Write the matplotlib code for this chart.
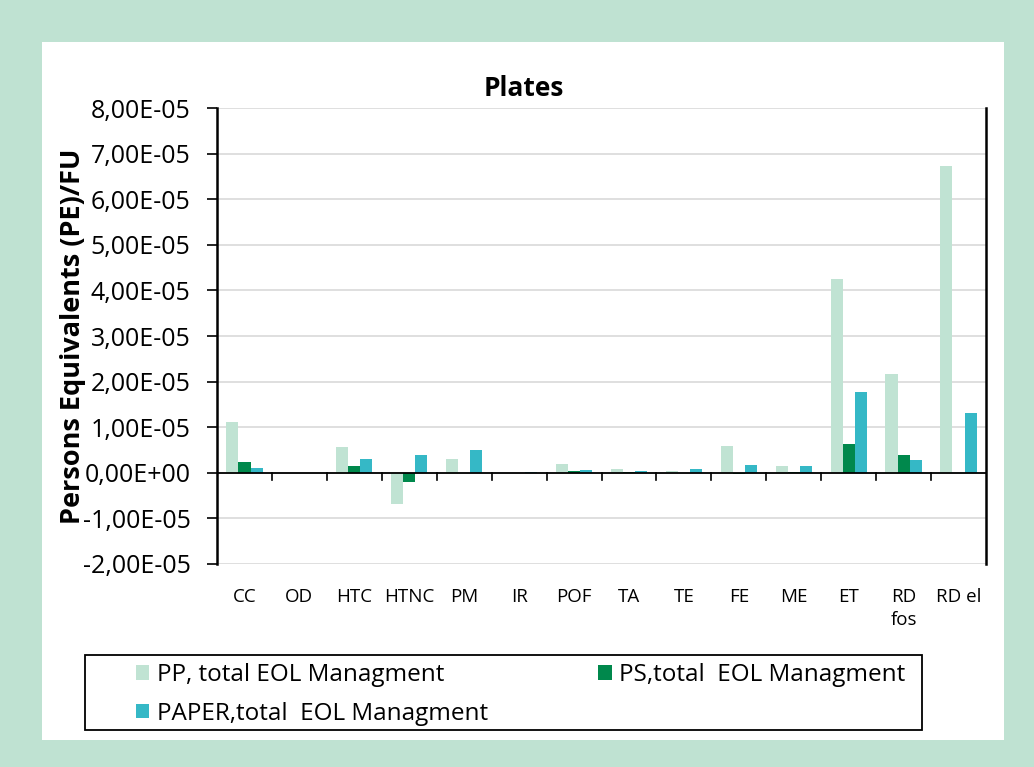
import numpy as np
import matplotlib.pyplot as plt
from matplotlib.patches import Rectangle
from matplotlib.ticker import FuncFormatter

plt.rcParams['font.family'] = ['Open Sans', 'DejaVu Sans']

categories = ['CC', 'OD', 'HTC', 'HTNC', 'PM', 'IR', 'POF', 'TA', 'TE', 'FE',
              'ME', 'ET', 'RD\nfos', 'RD el']
pp = [1.12e-5, 0.0, 0.57e-5, -0.68e-5, 0.31e-5, 0.0, 0.20e-5, 0.09e-5, 0.04e-5,
      0.58e-5, 0.16e-5, 4.25e-5, 2.16e-5, 6.73e-5]
ps = [0.24e-5, 0.0, 0.15e-5, -0.20e-5, 0.0, 0.0, 0.04e-5, 0.01e-5, 0.0,
      -0.02e-5, 0.02e-5, 0.64e-5, 0.39e-5, 0.0]
paper = [0.11e-5, 0.0, 0.31e-5, 0.40e-5, 0.50e-5, 0.02e-5, 0.07e-5, 0.04e-5,
         0.09e-5, 0.18e-5, 0.15e-5, 1.78e-5, 0.28e-5, 1.31e-5]
labels = ['PP, total EOL Managment', 'PS,total  EOL Managment',
          'PAPER,total  EOL Managment']
colors = ['#c0e3d3', '#00884c', '#35b8c6']

W, H = 1034, 767
fig = plt.figure(figsize=(W / 100, H / 100), dpi=100)
fig.patch.set_facecolor('#bfe2d2')
fig.patches.append(Rectangle((42 / W, 1 - 740 / H), 962 / W, 698 / H,
                             transform=fig.transFigure, facecolor='white',
                             edgecolor='none', zorder=-5))
# legend box
fig.patches.append(Rectangle((85 / W, 1 - 730 / H), 837 / W, 75 / H,
                             transform=fig.transFigure, facecolor='none',
                             edgecolor='black', linewidth=1.3, zorder=5))

ax = fig.add_axes([217 / W, 1 - 564 / H, 769 / W, 456 / H])
ax.set_zorder(2)
ax.set_facecolor('white')

x = np.arange(len(categories))
w = 0.22
bars = []
for i, (vals, lab, col) in enumerate(zip([pp, ps, paper], labels, colors)):
    bars.append(ax.bar(x + (i - 1) * w, vals, w, color=col, label=lab, zorder=3))

ax.set_xlim(-0.5, len(categories) - 0.5)
ax.set_ylim(-2e-5, 8e-5)
ax.set_yticks(np.arange(-2e-5, 8.01e-5, 1e-5))
ax.yaxis.set_major_formatter(FuncFormatter(
    lambda v, p: ('%.2E' % v).replace('.', ',')
    if abs(v) > 1e-12 else '0,00E+00'))
ax.grid(axis='y', color='#dcdcdc', linewidth=1.3, zorder=0)
ax.tick_params(axis='y', labelsize=18, length=7, width=1.2, direction='out',
               pad=12)

ax.set_xticks(x)
ax.set_xticklabels(categories, fontsize=13.5, va='top', linespacing=1.4)
ax.tick_params(axis='x', length=0, pad=17)

for s in ['top', 'bottom']:
    ax.spines[s].set_visible(False)
ax.spines['left'].set_linewidth(1.8)
ax.spines['right'].set_linewidth(1.8)

ax.axhline(0, color='black', linewidth=1.3, zorder=4)
for b in np.arange(0.5, len(categories) - 1, 1.0):
    ax.plot([b, b], [0, -0.15e-5], color='black', linewidth=1.2, zorder=4,
            clip_on=False)

ax.set_title('Plates', fontsize=19, fontweight='bold', pad=9, x=0.399)
ax.set_ylabel('Persons Equivalents (PE)/FU', fontsize=19.5, fontweight='bold',
              labelpad=-2)

handles = [bars[0], bars[2], bars[1]]
leg = fig.legend(handles, [labels[0], labels[2], labels[1]], loc='upper left',
                 bbox_to_anchor=(136 / W, 1 - 663 / H),
                 ncol=2, fontsize=17.5, frameon=False,
                 handlelength=0.55, handleheight=0.55, handletextpad=0.3,
                 borderaxespad=0, labelspacing=0.6, borderpad=0.0,
                 columnspacing=4.55)

fig.savefig('out.png', dpi=100, facecolor=fig.get_facecolor())
